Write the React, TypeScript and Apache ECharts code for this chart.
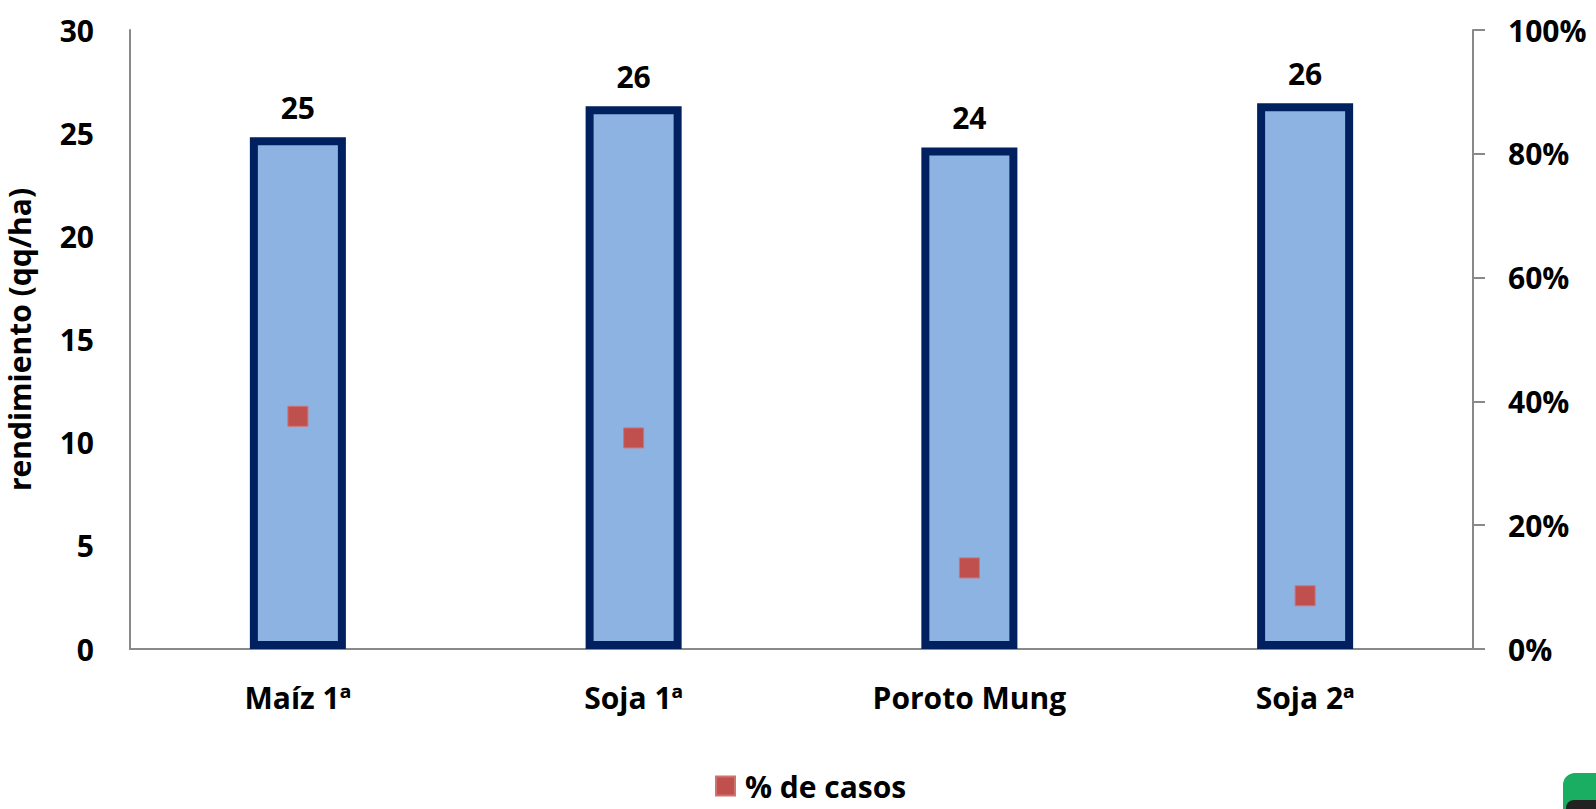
import React, { useEffect, useRef } from "react";
import * as echarts from "echarts";

const categories = ["Maíz 1ª", "Soja 1ª", "Poroto Mung", "Soja 2ª"];
const rendimiento = [24.8, 26.3, 24.3, 26.45];
const pctCasos = [0.376, 0.341, 0.131, 0.086];
const leftTicks = { min: 0, max: 30, interval: 5 };
const rightTicks = { min: 0, max: 1, interval: 0.2 };

const FONT = "Open Sans";

export default function App() {
  const ref = useRef<HTMLDivElement>(null);
  useEffect(() => {
    if (!ref.current) return;
    const chart = echarts.init(ref.current, undefined, { renderer: "svg" });
    const axisLine = { show: true, lineStyle: { color: "#898989", width: 2 } };
    const labelStyle = { fontFamily: FONT, fontWeight: "bold" as const, fontSize: 30, color: "#000" };
    chart.setOption({
      animation: false,
      backgroundColor: "#fff",
      grid: { left: 130, right: 123, top: 30, bottom: 160, containLabel: false, outerBoundsMode: "none" },
      legend: {
        data: ["% de casos"],
        left: 710,
        top: 766,
        icon: "rect",
        itemWidth: 19,
        itemHeight: 19,
        itemGap: 10,
        textStyle: { ...labelStyle, padding: [0, 0, 0, 5] },
      },
      xAxis: {
        type: "category",
        data: categories,
        axisLine,
        axisTick: { show: false },
        axisLabel: { ...labelStyle, margin: 33 },
      },
      yAxis: [
        {
          type: "value",
          min: leftTicks.min,
          max: leftTicks.max,
          interval: leftTicks.interval,
          axisLine,
          axisTick: { show: false },
          splitLine: { show: false },
          axisLabel: { ...labelStyle, margin: 36 },
          name: "rendimiento (qq/ha)",
          nameLocation: "middle",
          nameGap: 96,
          nameTextStyle: { ...labelStyle },
        },
        {
          type: "value",
          min: rightTicks.min,
          max: rightTicks.max,
          interval: rightTicks.interval,
          position: "right",
          axisLine,
          axisTick: { show: true, length: 12, inside: false, lineStyle: { color: "#898989", width: 2 } },
          splitLine: { show: false },
          axisLabel: {
            ...labelStyle,
            margin: 35,
            formatter: (v: number) => Math.round(v * 100) + "%",
          },
        },
      ],
      series: [
        {
          name: "rendimiento",
          type: "bar",
          data: rendimiento,
          barWidth: "28.6%",
          itemStyle: { color: "#8DB3E2", borderColor: "#002060", borderWidth: 8 },
          label: {
            show: true,
            position: "top",
            distance: 15,
            ...labelStyle,
            formatter: (p: any) => String(Math.round(p.value)),
          },
          z: 2,
        },
        {
          name: "% de casos",
          type: "scatter",
          yAxisIndex: 1,
          data: pctCasos,
          symbol: "rect",
          symbolSize: 20,
          itemStyle: { color: "#C0504D", opacity: 1, borderColor: "#CF7371", borderWidth: 1 },
          z: 3,
        },
      ],
      graphic: [
        {
          type: "rect",
          shape: { x: 1563, y: 773, width: 60, height: 60, r: 12 },
          style: { fill: "#1AAE63" },
        },
        {
          type: "rect",
          shape: { x: 1566, y: 800, width: 60, height: 30, r: 8 },
          style: { fill: "#222" },
        },
      ],
    });
    return () => chart.dispose();
  }, []);
  return (
    <div
      ref={ref}
      style={{ position: "fixed", left: 0, top: 0, width: 1596, height: 809 }}
    />
  );
}
